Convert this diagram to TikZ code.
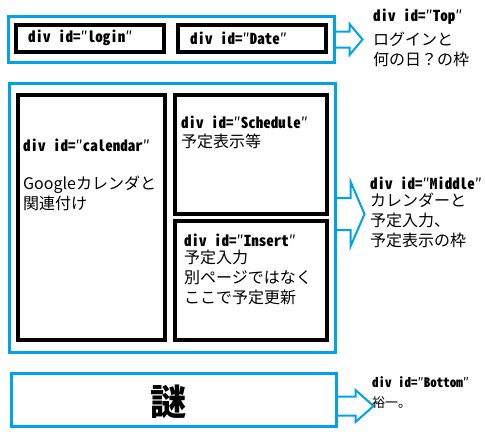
\documentclass[tikz,border=0pt]{standalone}
\usepackage{fontspec}
\setmainfont{Noto Sans CJK JP}
\newfontfamily\halfw[RawFeature=+hwid]{Noto Sans CJK JP}
\usetikzlibrary{positioning}
\definecolor{paintblue}{RGB}{0,162,232}
\def\jp{\fontsize{16}{20}\selectfont}
\def\dv{\halfw\bfseries\fontsize{15}{18}\selectfont}
\def\sjp{\fontsize{13}{16}\selectfont}
\def\sdv{\halfw\bfseries\fontsize{13}{16}\selectfont}
\def\q{{\normalfont\mdseries ″}}
% outline arrow: from, shaft half, head half, head base, tip
\newcommand\blockarrow[5]{%
  \draw[bigarrow] (#1) ++(0,-#2) -- ++(#4,0) -- ++(0,{#2-#3}) -- ++({#5-#4},#3)
    -- ++({#4-#5},#3) -- ++(0,{#2-#3}) -- ++(-#4,0);}

\tikzset{
  frame/.style={draw=paintblue, line width=3pt, inner sep=0pt},
  part/.style={draw=black, line width=4pt, inner sep=0pt},
  txt/.style={anchor=west, inner sep=0pt, align=left},
  bigarrow/.style={draw=paintblue, line width=2pt, line join=miter}
}

\begin{document}
\begin{tikzpicture}[x=1pt, y=-1pt]
\useasboundingbox (0,0) rectangle (485,447);

\node[frame, minimum width=326, minimum height=46] (top) at (171.5,39.5) {};
\node[part, minimum width=148, minimum height=27] (login) at (90,38.5) {};
\node[part, minimum width=148, minimum height=27] (date) at (252,38.5) {};
\node[txt, font=\dv] (logint) at (28,38) {div id=\q login\q};
\node[txt, font=\dv] (datet) at (190,38) {div id=\q Date\q};

\node[frame, minimum width=326, minimum height=269] (middle) at (172.5,218) {};
\node[part, minimum width=147, minimum height=245] (calendar) at (91.5,217.5) {};
\node[part, minimum width=152, minimum height=119] (schedule) at (251,154.5) {};
\node[part, minimum width=152, minimum height=119] (insert) at (251,280.5) {};
\node[txt, font=\dv] (calt) at (23,145) {div id=\q calendar\q};
\node[txt, font=\jp, anchor=north west] (cald) at (23,176) {Googleカレンダと\\関連付け};
\node[txt, font=\dv] (scht) at (181,122) {div id=\q Schedule\q};
\node[txt, font=\jp] (schd) at (181,141) {予定表示等};
\node[txt, font=\dv] (inst) at (184,240) {div id=\q Insert\q};
\node[txt, font=\jp, anchor=north west] (insd) at (184,250) {予定入力\\別ページではなく\\ここで予定更新};

\node[frame, minimum width=325, minimum height=53] (bottom) at (174,400) {};
\node[inner sep=0pt, font=\fontsize{36}{36}\selectfont\bfseries] (nazo) at (168,402) {謎};

\coordinate (ta) at (top.east);
\coordinate (ma) at ([yshift=4pt]middle.east);
\coordinate (ba) at ([yshift=-6pt]bottom.east);
\blockarrow{ta}{8}{15.5}{13.5}{26.5}
\blockarrow{ma}{16}{32.5}{13.5}{27.5}
\blockarrow{ba}{9.5}{16}{17.5}{35.5}

\node[txt, font=\dv] (topt) at (373,17) {div id=\q Top\q};
\node[txt, font=\jp, anchor=north west] (topd) at (373,32) {ログインと\\何の日？の枠};
\node[txt, font=\dv] (midt) at (370,183) {div id=\q Middle\q};
\node[txt, font=\jp, anchor=north west] (midd) at (370,193) {カレンダーと\\予定入力、\\予定表示の枠};
\node[txt, font=\sdv] (bott) at (372,382) {div id=\q Bottom\q};
\node[txt, font=\sjp] (botd) at (372,403) {裕一。};
\end{tikzpicture}
\end{document}
